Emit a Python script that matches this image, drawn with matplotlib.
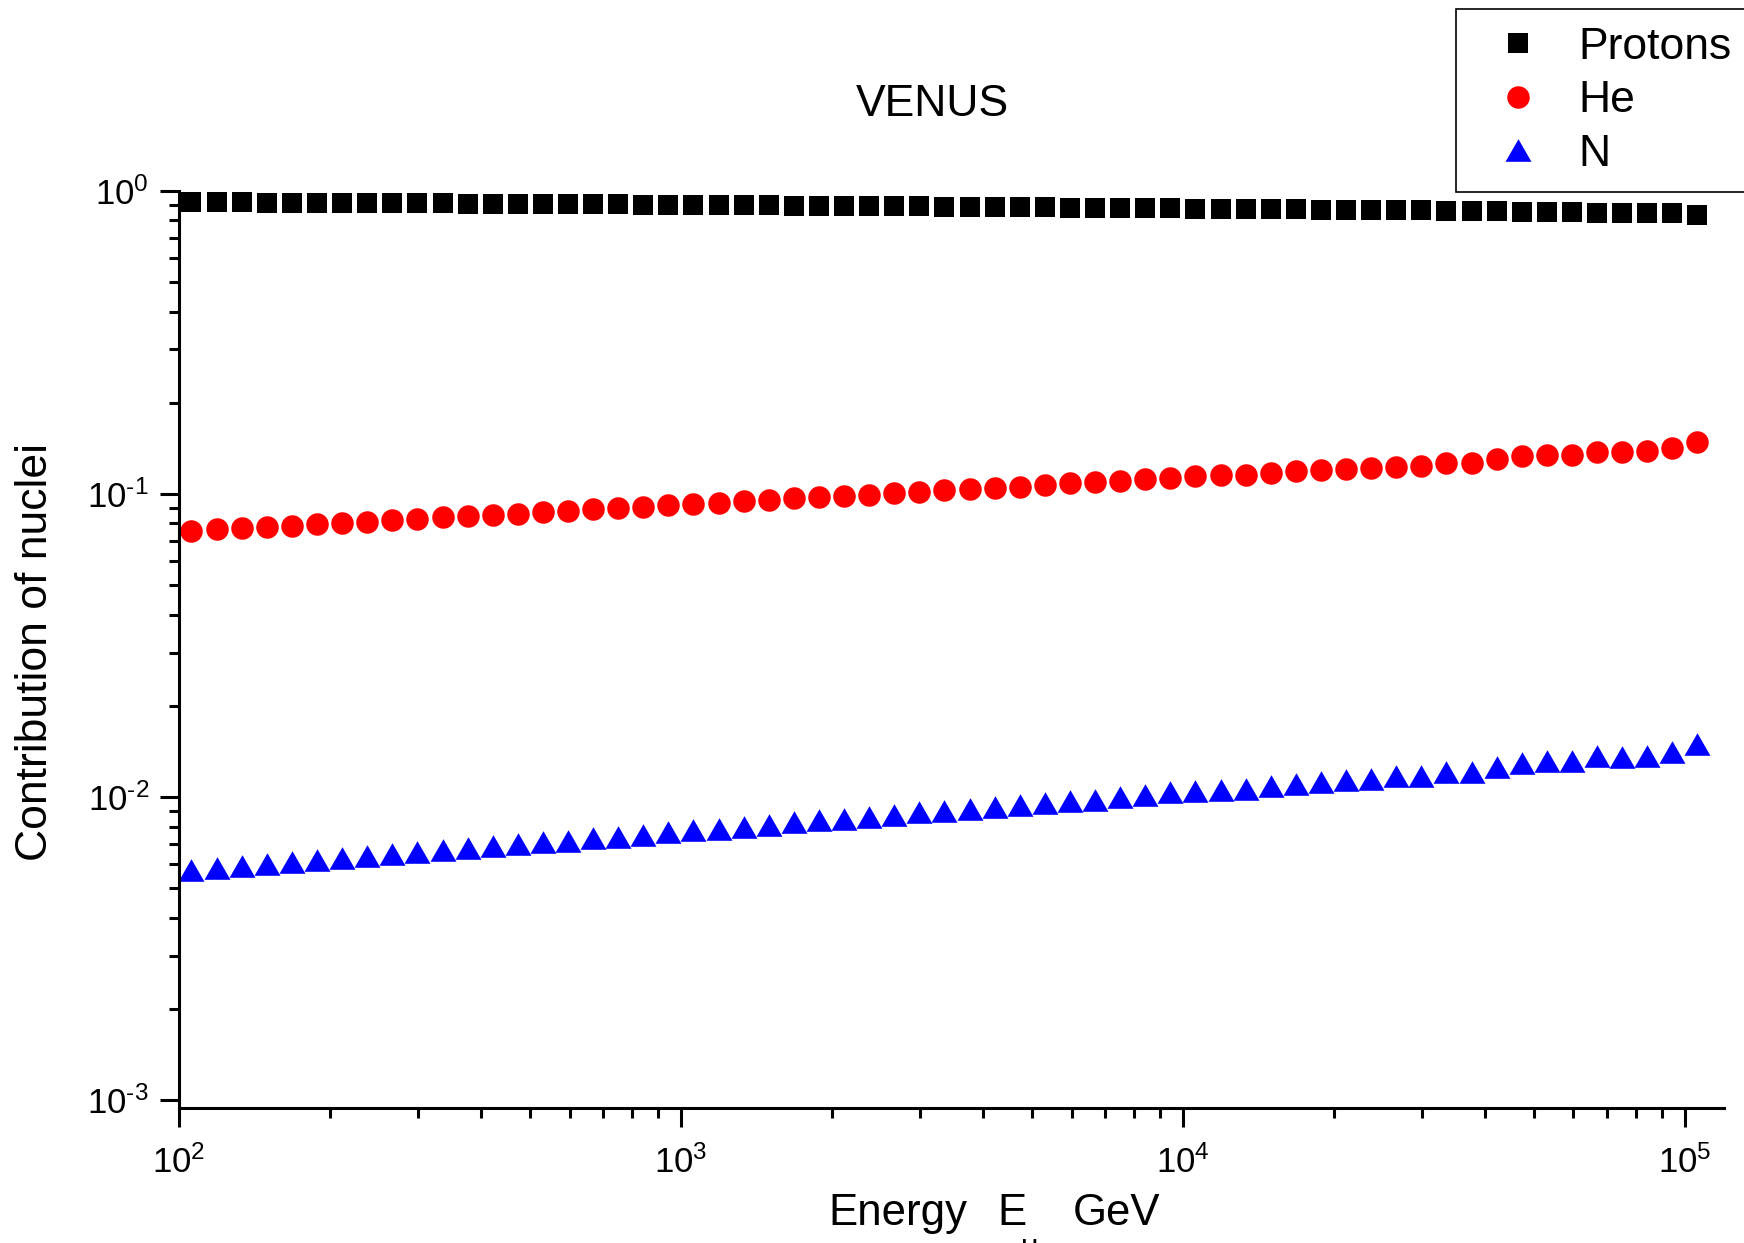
import matplotlib
matplotlib.use('Agg')
import matplotlib.pyplot as plt
from matplotlib.ticker import LogLocator, FuncFormatter, NullFormatter
import math

plt.rcParams['font.family'] = ['Liberation Sans', 'DejaVu Sans']
plt.rcParams['mathtext.fontset'] = 'custom'
plt.rcParams['mathtext.rm'] = 'Liberation Sans'
plt.rcParams['mathtext.it'] = 'Liberation Sans:italic'
plt.rcParams['axes.unicode_minus'] = False

# energies, GeV
energy = [105.9, 118.9, 133.4, 149.6, 167.9, 188.4, 211.3, 237.1, 266.1, 298.5,
          335.0, 375.8, 421.7, 473.2, 530.9, 595.7, 668.3, 749.9, 841.4, 944.1,
          1059, 1189, 1334, 1496, 1679, 1884, 2113, 2371, 2661, 2985,
          3350, 3758, 4217, 4732, 5309, 5957, 6683, 7499, 8414, 9441,
          10593, 11885, 13335, 14962, 16788, 18836, 21135, 23714, 26607, 29854,
          33497, 37584, 42170, 47315, 53088, 59566, 66834, 74989, 84140, 94406,
          105925]

protons = [0.919, 0.918, 0.917, 0.916, 0.915, 0.914, 0.913, 0.913, 0.911, 0.911,
           0.910, 0.909, 0.908, 0.907, 0.906, 0.905, 0.904, 0.903, 0.902, 0.901,
           0.899, 0.899, 0.897, 0.896, 0.895, 0.894, 0.893, 0.892, 0.891, 0.889,
           0.888, 0.887, 0.886, 0.885, 0.883, 0.882, 0.881, 0.879, 0.878, 0.876,
           0.875, 0.874, 0.874, 0.872, 0.870, 0.868, 0.867, 0.867, 0.865, 0.865,
           0.861, 0.862, 0.857, 0.854, 0.853, 0.852, 0.848, 0.849, 0.848, 0.844,
           0.836]

helium = [0.0755, 0.0765, 0.0770, 0.0780, 0.0786, 0.0794, 0.0804, 0.0810, 0.0821, 0.0829,
          0.0838, 0.0844, 0.0855, 0.0861, 0.0872, 0.0881, 0.0890, 0.0899, 0.0906, 0.0918,
          0.0929, 0.0936, 0.0946, 0.0955, 0.0970, 0.0977, 0.0987, 0.0995, 0.1005, 0.1018,
          0.1031, 0.1038, 0.1047, 0.1057, 0.1073, 0.1084, 0.1092, 0.1106, 0.1118, 0.1132,
          0.1143, 0.1152, 0.1155, 0.1170, 0.1188, 0.1203, 0.1212, 0.1218, 0.1231, 0.1234,
          0.1265, 0.1262, 0.1301, 0.1331, 0.1341, 0.1348, 0.1379, 0.1372, 0.1383, 0.1422,
          0.1488]

nitrogen = [0.00573, 0.00583, 0.00593, 0.00601, 0.00610, 0.00619, 0.00631, 0.00639, 0.00648, 0.00658,
            0.00670, 0.00679, 0.00689, 0.00700, 0.00709, 0.00718, 0.00731, 0.00738, 0.00751, 0.00765,
            0.00777, 0.00784, 0.00798, 0.00808, 0.00825, 0.00838, 0.00848, 0.00859, 0.00872, 0.00890,
            0.00901, 0.00913, 0.00929, 0.00941, 0.00958, 0.00970, 0.00977, 0.01000, 0.01018, 0.01036,
            0.01049, 0.01057, 0.01063, 0.01085, 0.01106, 0.01123, 0.01140, 0.01149, 0.01170, 0.01170,
            0.01209, 0.01209, 0.01256, 0.01298, 0.01318, 0.01318, 0.01369, 0.01352, 0.01369, 0.01411,
            0.01500]

labels = ['Protons', 'He', 'N']


def pow_label(val, pos):
    # 10^n with a plain hyphen for negative powers, like Origin does
    e = int(round(math.log10(val)))
    if e < 0:
        return r'$\mathdefault{10^{\text{-}%d}}$' % abs(e)
    return r'$\mathdefault{10^{%d}}$' % e


W, H = 1744, 1243
fig = plt.figure(figsize=(W / 100, H / 100), dpi=100)
ax = fig.add_axes([179 / W, 1 - 1107.5 / H, (1724 - 179) / W, (1107.5 - 191) / H])

# wider triangle like the original
tri = [(0, 1), (-1.15, -1), (1.15, -1), (0, 1)]

ax.plot(energy, protons, ls='none', marker='s', ms=13.8, mew=0, color='black', label=labels[0])
ax.plot(energy, helium, ls='none', marker='o', ms=16.2, mew=0, color='#ff0000', label=labels[1])
ax.plot(energy, nitrogen, ls='none', marker=tri, ms=18.7, mew=0, color='#0000ff', label=labels[2])

ax.set_xscale('log')
ax.set_yscale('log')
ax.set_xlim(100, 10 ** 5.078)
ax.set_ylim(10 ** -3.024, 1)

for side in ['top', 'right']:
    ax.spines[side].set_visible(False)
for side in ['left', 'bottom']:
    ax.spines[side].set_linewidth(2.2)

ax.xaxis.set_major_locator(LogLocator(base=10, numticks=10))
ax.yaxis.set_major_locator(LogLocator(base=10, numticks=10))
ax.xaxis.set_minor_locator(LogLocator(base=10, subs=range(2, 10), numticks=20))
ax.yaxis.set_minor_locator(LogLocator(base=10, subs=range(2, 10), numticks=20))
ax.xaxis.set_major_formatter(FuncFormatter(pow_label))
ax.yaxis.set_major_formatter(FuncFormatter(pow_label))
ax.xaxis.set_minor_formatter(NullFormatter())
ax.yaxis.set_minor_formatter(NullFormatter())

ax.tick_params(which='major', direction='out', length=13.7, width=2.2, labelsize=25, color='black')
ax.tick_params(which='minor', direction='out', length=7.2, width=2.2, color='black')
ax.tick_params(axis='x', which='major', pad=13.5)
ax.tick_params(axis='y', which='major', pad=8)

fig.text(35.5 / W, 1 - 652 / H, 'Contribution of nuclei', fontsize=32, rotation=90, ha='center', va='center')

fig.text(856 / W, 1 - 116 / H, 'VENUS', fontsize=32, ha='left', va='baseline')
fig.text(828 / W, 1 - 1225 / H, 'Energy', fontsize=31.5, ha='left', va='baseline')
fig.text(997 / W, 1 - 1225 / H, 'E', fontsize=31.5, ha='left', va='baseline')
fig.text(1073 / W, 1 - 1225 / H, 'GeV', fontsize=31.5, ha='left', va='baseline')
fig.text(1021 / W, 1 - 1256 / H, 'μ', fontsize=22, ha='left', va='baseline')

leg = ax.legend(loc='upper left', bbox_to_anchor=(1455.7 / W, 1 - 9 / H), bbox_transform=fig.transFigure,
                borderaxespad=0, fontsize=32, numpoints=1, fancybox=False, framealpha=1,
                edgecolor='black', handlelength=2.0, handletextpad=0.37, borderpad=0.4,
                labelspacing=0.28)
leg.get_frame().set_linewidth(1.2)

fig.savefig('out.png', dpi=100)
